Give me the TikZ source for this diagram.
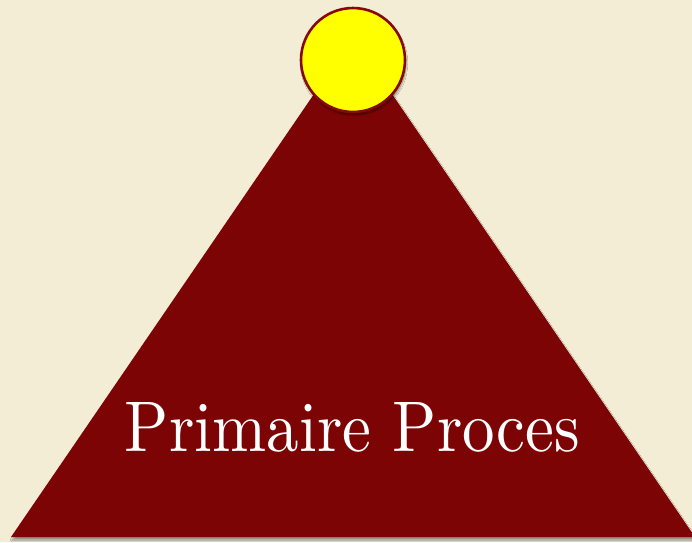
\documentclass[tikz,border=0pt]{standalone}
\usetikzlibrary{shadows.blur}
\definecolor{parch}{HTML}{F3EDD6}
\definecolor{tri}{HTML}{7D0404}
\definecolor{ring}{HTML}{860808}
\definecolor{sun}{HTML}{FFFF00}
\tikzset{
  pyramid/.style={fill=tri, blur shadow={shadow xshift=1pt, shadow yshift=-3pt, shadow blur steps=8, shadow opacity=40}},
  topball/.style={circle, draw=ring, line width=2.6pt, fill=sun, minimum size=104pt, inner sep=0pt,
     blur shadow={shadow xshift=1pt, shadow yshift=-3pt, shadow blur steps=8, shadow opacity=45}},
  label/.style={text=white, inner sep=0pt, anchor=base}
}
\begin{document}
\begin{tikzpicture}[x=1pt,y=-1pt]
\fill[parch] (0,0) rectangle (692,542);
\useasboundingbox (0,0) rectangle (692,542);
\coordinate (apex) at (353,37);
\coordinate (bl) at (11,537);
\coordinate (br) at (695,537);
\path[pyramid] (apex) -- (bl) -- (br) -- cycle;
\node[topball] (ball) at (353,60) {};
\node[label] (title) at (352.5,451) {\resizebox{455pt}{49pt}{Primaire Proces}};
\end{tikzpicture}
\end{document}
